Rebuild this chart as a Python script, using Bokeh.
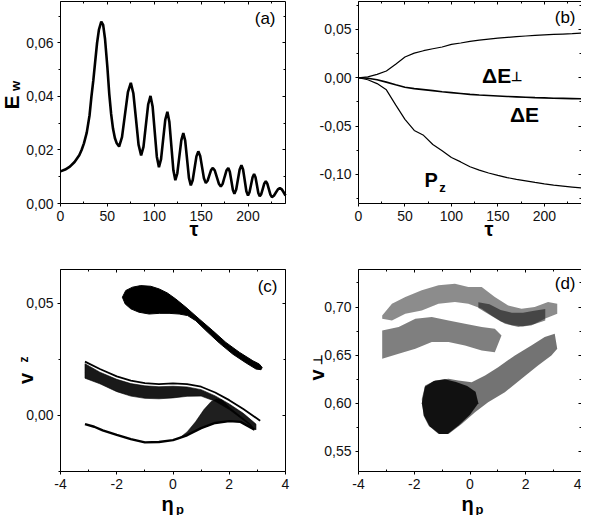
from bokeh.plotting import figure
from bokeh.models import Range1d, LinearAxis, FixedTicker, CustomJSTickFormatter, Label
from bokeh.layouts import column, row
from bokeh.embed import file_html
from bokeh.resources import INLINE
import math

FONT = "Liberation Sans"

# ---------------- panel (a): E_w vs tau ----------------
curve_a = [(0, 0.0120), (5, 0.0127), (10, 0.0138), (15, 0.0155), (20, 0.0180), (22.5, 0.0200),
           (25, 0.0225), (28, 0.0265), (31, 0.0330), (33, 0.0400), (35, 0.0460), (37, 0.0530),
           (39, 0.0600), (41, 0.0650), (43.5, 0.0680), (45.5, 0.0668), (47.5, 0.0615), (50, 0.0510),
           (52, 0.0410), (54, 0.0335), (56, 0.0280), (58, 0.0245), (60, 0.0225), (62.5, 0.0213),
           (65.6, 0.0248), (68.75, 0.0332), (71.9, 0.0416), (75, 0.0451),
           (77.75, 0.0411), (80.5, 0.0316), (83.25, 0.0220), (86, 0.0180),
           (88.5, 0.0212), (91, 0.0291), (93.5, 0.0370), (96, 0.0402),
           (98.25, 0.0363), (100.5, 0.0269), (102.75, 0.0175), (105, 0.0136),
           (107.25, 0.0166), (109.5, 0.0240), (111.75, 0.0313), (114, 0.0343),
           (116.1, 0.0306), (118.25, 0.0215), (120.4, 0.0124), (122.5, 0.0087),
           (124.6, 0.0113), (126.75, 0.0175), (128.9, 0.0237), (131, 0.0263),
           (133, 0.0235), (135, 0.0166), (137, 0.0096), (139, 0.0068),
           (141, 0.0087), (143, 0.0132), (145, 0.0176), (147, 0.0195),
           (149, 0.0178), (151, 0.0136), (153, 0.0094), (155, 0.0077),
           (156.9, 0.0085), (158.75, 0.0105), (160.6, 0.0125), (162.5, 0.0133),
           (164.6, 0.0123), (166.75, 0.0099), (168.9, 0.0074), (171, 0.0064),
           (173, 0.0074), (175, 0.0099), (177, 0.0123), (179, 0.0133),
           (180.6, 0.0119), (182.25, 0.0085), (183.9, 0.0050), (185.5, 0.0036),
           (187.4, 0.0052), (189.25, 0.0090), (191.1, 0.0127), (193, 0.0143),
           (194.75, 0.0127), (196.5, 0.0087), (198.25, 0.0046), (200, 0.0030),
           (201.6, 0.0042), (203.25, 0.0070), (204.9, 0.0098), (206.5, 0.0110),
           (208, 0.0098), (209.5, 0.0069), (211, 0.0039), (212.5, 0.0027),
           (214.1, 0.0035), (215.75, 0.0055), (217.4, 0.0075), (219, 0.0083),
           (220.6, 0.0074), (222.25, 0.0054), (223.9, 0.0033), (225.5, 0.0024),
           (227.6, 0.0029), (229.75, 0.0041), (231.9, 0.0053), (234, 0.0058),
           (236, 0.0053), (238, 0.0042), (240, 0.0030)]
tau_a = [t for t, _ in curve_a]
ew_a = [v for _, v in curve_a]

# ---------------- panel (b): dE_perp, dE, P_z vs tau ----------------
tau_b = [0, 10, 20, 30, 40, 50, 60, 70, 80, 90, 100, 110, 120, 130, 140, 150, 160, 170, 180,
         190, 200, 210, 220, 230, 240]
de_perp = [0, 0.0010, 0.0035, 0.0070, 0.0140, 0.0215, 0.0255, 0.0280, 0.0300, 0.0318, 0.0345,
           0.0360, 0.0377, 0.0390, 0.0400, 0.0410, 0.0418, 0.0425, 0.0432, 0.0438, 0.0443,
           0.0448, 0.0452, 0.0456, 0.0462]
de_tot = [0, -0.0005, -0.0020, -0.0045, -0.0072, -0.0098, -0.0112, -0.0122, -0.0133, -0.0145,
          -0.0153, -0.0162, -0.0172, -0.0178, -0.0183, -0.0188, -0.0193, -0.0197, -0.0201,
          -0.0205, -0.0208, -0.0211, -0.0213, -0.0215, -0.0217]
p_z = [0, -0.0020, -0.0060, -0.0125, -0.0280, -0.0430, -0.0545, -0.0595, -0.0690, -0.0755,
       -0.0825, -0.0870, -0.0920, -0.0955, -0.0985, -0.1010, -0.1032, -0.1050, -0.1066,
       -0.1082, -0.1097, -0.1110, -0.1120, -0.1130, -0.1140]

# ---------------- panel (c): v_z vs eta_p (outlines of the point clouds) ----------------
c_blob_x = [-1.80, -1.68, -1.44, -1.15, -0.79, -0.49, -0.20, 0.10, 0.46, 0.93, 1.41, 1.88, 2.36,
            2.84, 3.07, 3.17, 3.13, 2.95, 2.60, 2.12, 1.65, 1.17, 0.81, 0.52, 0.22, -0.14, -0.49,
            -0.85, -1.21, -1.50, -1.70]
c_blob_y = [0.0527, 0.0557, 0.0572, 0.0579, 0.0576, 0.0564, 0.0546, 0.0519, 0.0482, 0.0430,
            0.0378, 0.0325, 0.0281, 0.0243, 0.0228, 0.0213, 0.0203, 0.0206, 0.0233, 0.0273,
            0.0322, 0.0378, 0.0422, 0.0445, 0.0452, 0.0455, 0.0455, 0.0452, 0.0460, 0.0475,
            0.0497]
c_top_x = [-3.13, -2.6, -2.0, -1.5, -1.0, -0.5, 0.0, 0.5, 1.0, 1.5, 2.0, 2.5, 3.1]
c_top_y = [0.0239, 0.0206, 0.0173, 0.0154, 0.0143, 0.0139, 0.0142, 0.0139, 0.0127, 0.0101,
           0.0067, 0.0027, -0.0025]
c_band_x = [-3.13, -2.6, -2.0, -1.5, -1.0, -0.5, 0.0, 0.5, 1.0, 1.5, 2.0, 2.5, 2.95,
            2.95, 2.5, 2.0, 1.5, 1.0, 0.5, 0.0, -0.5, -1.0, -1.5, -2.0, -2.6, -3.13]
c_band_y = [0.0230, 0.0192, 0.0160, 0.0141, 0.0131, 0.0127, 0.0129, 0.0126, 0.0114, 0.0086,
            0.0050, 0.0008, -0.0040,
            -0.0066, -0.0022, 0.0025, 0.0062, 0.0085, 0.0084, 0.0077, 0.0073, 0.0075, 0.0085,
            0.0105, 0.0140, 0.0165]
c_low_x = [-3.13, -2.8, -2.5, -2.0, -1.5, -1.0, -0.5, 0.0, 0.5, 1.0, 1.5, 2.0, 2.4, 2.9]
c_low_y = [-0.0040, -0.0052, -0.0068, -0.0088, -0.0107, -0.0122, -0.0120, -0.0112, -0.0090,
           -0.0058, -0.0035, -0.0027, -0.0030, -0.0065]
c_fan_x = [0.2, 0.5, 1.0, 1.5, 2.0, 2.4, 2.9, 2.75, 2.4, 2.0, 1.75, 1.55, 1.35, 1.1, 0.8, 0.5]
c_fan_y = [-0.0105, -0.0090, -0.0058, -0.0035, -0.0027, -0.0030, -0.0065, -0.0040, -0.0005,
           0.0035, 0.0068, 0.0072, 0.0060, 0.0025, -0.0030, -0.0075]

# ---------------- panel (d): v_perp vs eta_p (outlines of the point clouds) ----------------
d_up_x = [-3.15, -2.80, -2.32, -1.73, -1.13, -0.54, -0.06, 0.42, 0.89, 1.37, 1.85, 2.32, 2.80,
          3.13, 3.13, 2.68, 2.20, 1.73, 1.25, 0.77, 0.42, -0.06, -0.54, -1.13, -1.73, -2.32,
          -2.80, -3.15]
d_up_y = [0.6913, 0.7035, 0.7104, 0.7174, 0.7226, 0.7243, 0.7208, 0.7208, 0.7104, 0.7017,
          0.6983, 0.7000, 0.7052, 0.7035, 0.6931, 0.6878, 0.6809, 0.6792, 0.6826, 0.6913,
          0.6983, 0.7035, 0.7052, 0.7035, 0.6965, 0.6931, 0.6861, 0.6878]
d_upcore_x = [0.3, 0.7, 1.1, 1.5, 1.9, 2.3, 2.7, 2.7, 2.3, 1.9, 1.5, 1.1, 0.7, 0.3]
d_upcore_y = [0.705, 0.703, 0.697, 0.694, 0.694, 0.696, 0.698, 0.686, 0.682, 0.680, 0.681,
              0.685, 0.692, 0.699]
d_mid_x = [-3.15, -2.56, -1.96, -1.37, -0.77, -0.18, 0.42, 0.89, 1.13, 0.89, 0.42, -0.18,
           -0.77, -1.37, -1.96, -2.56, -3.15]
d_mid_y = [0.6757, 0.6792, 0.6878, 0.6896, 0.6861, 0.6826, 0.6792, 0.6774, 0.6705, 0.6531,
           0.6549, 0.6600, 0.6635, 0.6635, 0.6566, 0.6514, 0.6462]
d_low_x = [-1.73, -1.61, -1.25, -0.77, -0.42, 0.06, 0.54, 1.01, 1.61, 2.20, 2.68, 3.04, 3.13,
           2.92, 2.44, 1.85, 1.25, 0.65, 0.18, -0.30, -0.77, -1.13, -1.49, -1.67]
d_low_y = [0.6045, 0.6184, 0.6236, 0.6253, 0.6236, 0.6219, 0.6288, 0.6375, 0.6497, 0.6600,
           0.6688, 0.6722, 0.6566, 0.6497, 0.6392, 0.6253, 0.6115, 0.6010, 0.5906, 0.5785,
           0.5681, 0.5681, 0.5767, 0.5872]
d_core_x = [-1.73, -1.62, -1.30, -0.90, -0.50, -0.10, 0.20, 0.30, 0.00, -0.40, -0.80, -1.10,
            -1.45, -1.65]
d_core_y = [0.600, 0.617, 0.623, 0.625, 0.622, 0.618, 0.612, 0.600, 0.588, 0.577, 0.568, 0.568,
            0.576, 0.587]

# ---------------- ticks ----------------
tau_ticks = [0, 50, 100, 150, 200]
tau_labels = ["0", "50", "100", "150", "200"]
tau_minor = [25, 75, 125, 175, 225]
eta_ticks = [-4, -2, 0, 2, 4]
eta_labels = ["-4", "-2", "0", "2", "4"]
eta_minor = [-3, -1, 1, 3]
a_yticks = [0.0, 0.02, 0.04, 0.06]
a_ylabels = ["0,00", "0,02", "0,04", "0,06"]
a_yminor = [0.01, 0.03, 0.05, 0.07]
b_yticks = [-0.10, -0.05, 0.0, 0.05]
b_ylabels = ["-0,10", "-0,05", "0,00", "0,05"]
b_yminor = [-0.125, -0.075, -0.025, 0.025, 0.075]
c_yticks = [0.0, 0.05]
c_ylabels = ["0,00", "0,05"]
c_yminor = [-0.025, 0.025]
d_yticks = [0.55, 0.60, 0.65, 0.70]
d_ylabels = ["0,55", "0,60", "0,65", "0,70"]
d_yminor = [0.575, 0.625, 0.675, 0.725]


def fmt(tick_vals, tick_texts):
    return CustomJSTickFormatter(args=dict(tv=tick_vals, tl=tick_texts), code="""
        for (let i = 0; i < tv.length; i++) {
            if (Math.abs(tv[i] - tick) < 1e-9) { return tl[i]; }
        }
        return "";
    """)


def axis(tick_vals, minors, tick_texts, main, minor_in, loc, bounds):
    ax = LinearAxis(ticker=FixedTicker(ticks=tick_vals, minor_ticks=minors),
                    axis_line_color="black", axis_line_width=1,
                    major_tick_line_color="black", minor_tick_line_color="black",
                    fixed_location=loc, bounds=bounds)
    if main:
        ax.formatter = fmt(tick_vals, tick_texts)
        ax.major_label_text_font = FONT
        ax.major_label_text_font_size = "14px"
        ax.major_label_text_color = "#111111"
        ax.major_tick_out = 3
        ax.major_tick_in = 0
        ax.minor_tick_out = 0 if minor_in else 2
        ax.minor_tick_in = 2 if minor_in else 0
        ax.major_label_standoff = 4
    else:
        ax.formatter = CustomJSTickFormatter(code="return '';")
        ax.major_label_text_font_size = "0px"
        ax.major_label_standoff = 0
        ax.major_tick_out = 0
        ax.major_tick_in = 3
        ax.minor_tick_out = 0
        ax.minor_tick_in = 2
    return ax


def make_fig(w, h, box, xd, yd, xt, xm, xl, yt, ym, yl, clip_right=False):
    # box: (left, right, top, bottom) of the axes rectangle, canvas pixels
    L, R, T, B = box
    x0, x1 = xd
    y0, y1 = yd
    kx = (x1 - x0) / (R - L)
    ky = (y1 - y0) / (B - T)
    p = figure(width=w, height=h,
               x_range=Range1d(x0 - L * kx, x1 + (w - R) * kx),
               y_range=Range1d(y0 - (h - B) * ky, y1 + T * ky),
               output_backend="svg", toolbar_location=None,
               x_axis_location=None, y_axis_location=None, min_border=0)
    p.grid.visible = False
    p.outline_line_color = None
    p.background_fill_color = "white"
    p.border_fill_color = "white"
    p.add_layout(axis(xt, xm, xl, True, True, y0, (x0, x1)), "below")
    p.add_layout(axis(yt, ym, yl, True, False, x0, (y0, y1)), "left")
    p.add_layout(axis(xt, xm, xl, False, True, y1, (x0, x1)), "above")
    r = axis(yt, ym, yl, False, True, x1, (y0, y1))
    if clip_right:
        r.axis_line_color = None
    p.add_layout(r, "right")
    return p


def lab(p, org, text, px, py, size, bold=True, angle=0.0, align="center", baseline="middle"):
    # px, py: position on the page; org: page position of the figure's top-left corner
    ox, oy, h = org
    p.add_layout(Label(x=px - ox, y=h - (py - oy), x_units="screen", y_units="screen",
                       text=text, text_font=FONT, text_font_size=f"{size}px",
                       text_font_style="bold" if bold else "normal",
                       angle=angle, text_align=align, text_baseline=baseline,
                       text_color="black"))


def dlab(p, text, x, y, size, align="left", baseline="alphabetic"):
    p.add_layout(Label(x=x, y=y, text=text, text_font=FONT, text_font_size=f"{size}px",
                       text_font_style="bold", text_align=align, text_baseline=baseline,
                       text_color="black"))


UP = math.pi / 2

# ---- (a)
pa = make_fig(298, 268, (60, 285, 0.5, 203), (0, 240), (0, 0.0757), tau_ticks, tau_minor,
              tau_labels, a_yticks, a_yminor, a_ylabels)
pa.line(tau_a, ew_a, line_color="black", line_width=2.6)
oa = (8, 8, 268)
lab(pa, oa, "(a)", 283, 25.5, 17, bold=False, align="right")
lab(pa, oa, "E", 18.5, 110, 21, angle=UP)
lab(pa, oa, "w", 22.5, 93.5, 13, angle=UP)
lab(pa, oa, "τ", 201.5, 236.5, 20)

# ---- (b)
pb = make_fig(283, 268, (60, 283, 0.5, 203), (0, 240), (-0.130, 0.0794), tau_ticks, tau_minor,
              tau_labels, b_yticks, b_yminor, b_ylabels, clip_right=True)
pb.line(tau_b, de_perp, line_color="black", line_width=1.2)
pb.line(tau_b, de_tot, line_color="black", line_width=1.6)
pb.line(tau_b, p_z, line_color="black", line_width=1.2)
ob = (306, 8, 268)
lab(pb, ob, "(b)", 583, 24.5, 17, bold=False, align="right")
lab(pb, ob, "τ", 496.5, 236.5, 20)
dlab(pb, "ΔE", 133, 0.002, 21)
dlab(pb, "⊥", 164, 0.001, 13)
dlab(pb, "ΔE", 163, -0.038, 21)
dlab(pb, "P", 71, -0.106, 20)
dlab(pb, "z", 87, -0.113, 13)

# ---- (c)
pc = make_fig(298, 247, (60, 285, 1, 203), (-4, 4), (-0.0252, 0.0651), eta_ticks, eta_minor,
              eta_labels, c_yticks, c_yminor, c_ylabels)
pc.patch(c_blob_x, c_blob_y, fill_color="black", line_color="black", line_width=1)
pc.patch(c_band_x, c_band_y, fill_color="black", fill_alpha=0.9, line_color="black",
         line_width=1, line_alpha=0.6)
pc.patch(c_fan_x, c_fan_y, fill_color="black", fill_alpha=0.88, line_color="black",
         line_width=1, line_alpha=0.5)
pc.line(c_top_x, c_top_y, line_color="black", line_width=1.8)
pc.line(c_low_x, c_low_y, line_color="black", line_width=2.4)
oc = (8, 276, 247)
lab(pc, oc, "(c)", 285, 294, 17, bold=False, align="right")
lab(pc, oc, "v", 33.5, 386, 20, angle=UP)
lab(pc, oc, "z", 31, 367, 12, angle=UP)
lab(pc, oc, "η", 175, 511, 20)
lab(pc, oc, "p", 187.5, 516.5, 13)

# ---- (d)
pd = make_fig(283, 247, (60, 283, 1, 203), (-4, 4), (0.529, 0.739), eta_ticks, eta_minor,
              eta_labels, d_yticks, d_yminor, d_ylabels, clip_right=True)
pd.patch(d_up_x, d_up_y, fill_color="black", fill_alpha=0.45, line_color=None)
pd.patch(d_upcore_x, d_upcore_y, fill_color="black", fill_alpha=0.5, line_color=None)
pd.patch(d_mid_x, d_mid_y, fill_color="black", fill_alpha=0.5, line_color=None)
pd.patch(d_low_x, d_low_y, fill_color="black", fill_alpha=0.55, line_color=None)
pd.patch(d_core_x, d_core_y, fill_color="black", fill_alpha=0.85, line_color=None)
od = (306, 276, 247)
lab(pd, od, "(d)", 583, 291, 17, bold=False, align="right")
lab(pd, od, "v", 324.5, 382.5, 20, angle=UP)
lab(pd, od, "⊥", 325, 367.5, 12, angle=UP)
lab(pd, od, "η", 475, 511, 20)
lab(pd, od, "p", 487, 516.5, 13)

layout = column(row(pa, pb), row(pc, pd))
open("out.html", "w").write(file_html(layout, INLINE))
